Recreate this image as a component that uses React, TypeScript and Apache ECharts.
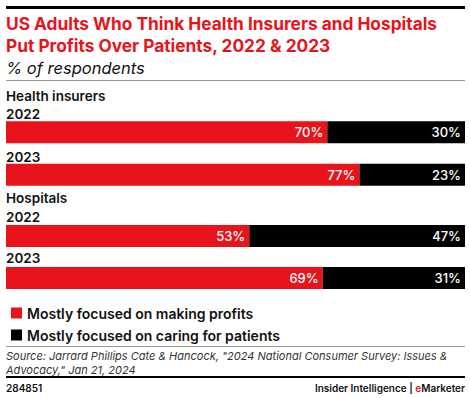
import React, { useEffect, useRef } from "react";
import * as echarts from "echarts";

const groups = ["Health insurers", "Hospitals"];
const years = ["2022", "2023"];
const profitsInsurers = [70, 77];
const caringInsurers = [30, 23];
const profitsHospitals = [53, 69];
const caringHospitals = [47, 31];
const seriesNames = ["Mostly focused on making profits", "Mostly focused on caring for patients"];

const RED = "#e8131b";
const FONT = "Inter, 'Noto Sans', sans-serif";

const rules = [
  { y: 7.5, w: 3, color: "#000" },
  { y: 80.5, w: 1, color: "#999" },
  { y: 346.5, w: 1, color: "#999" },
  { y: 377, w: 2, color: "#000" },
];

export default function App() {
  const ref = useRef<HTMLDivElement>(null);
  useEffect(() => {
    const chart = echarts.init(ref.current!, null, { renderer: "svg" });
    const grids = [
      { left: 6, right: 5, top: 111, height: 85 },
      { left: 6, right: 5, top: 215, height: 84 },
    ];
    const label = {
      show: true,
      position: "insideRight",
      distance: 4,
      formatter: "{c}%",
      color: "#fff",
      fontFamily: FONT,
      fontSize: 13,
      fontWeight: 500,
    };
    const mk = (name: string, data: number[], idx: number, color: string) => ({
      name,
      type: "bar",
      stack: "s" + idx,
      xAxisIndex: idx,
      yAxisIndex: idx,
      barWidth: 22,
      data,
      itemStyle: { color },
      label,
    });
    const yearLabelY = [[114, 157], [217, 258]];
    const headerY = [96, 198];
    const txt = (text: string, x: number, y: number, font: string, fill = "#111", align = "left") => ({
      type: "text",
      style: { text, x, y, font, fill, align, verticalAlign: "middle" },
    });
    const texts: any[] = [];
    groups.forEach((g, gi) => {
      texts.push(txt(g, 6, headerY[gi], `600 13.5px ${FONT}`));
      years.forEach((y, yi) => {
        texts.push(txt(y, 6, yearLabelY[gi][yi], `600 13.5px ${FONT}`));
      });
    });
    chart.setOption({
      animation: false,
      grid: grids,
      xAxis: grids.map((_, i) => ({
        type: "value", gridIndex: i, min: 0, max: 100, show: false,
      })),
      yAxis: grids.map((_, i) => ({
        type: "category", gridIndex: i, data: years, inverse: true, show: false,
      })),
      legend: {
        orient: "vertical",
        left: 6,
        top: 301,
        icon: "rect",
        itemWidth: 11,
        itemHeight: 11,
        itemGap: 8,
        data: seriesNames,
        textStyle: { fontFamily: FONT, fontSize: 14, fontWeight: 600, color: "#111" },
        selectedMode: false,
      },
      series: [
        mk(seriesNames[0], profitsInsurers, 0, RED),
        mk(seriesNames[1], caringInsurers, 0, "#000"),
        mk(seriesNames[0], profitsHospitals, 1, RED),
        mk(seriesNames[1], caringHospitals, 1, "#000"),
      ],
      graphic: {
        elements: [
          ...rules.map((r) => ({
            type: "rect",
            z: 50,
            shape: { x: 6, y: r.y - r.w / 2, width: 459, height: r.w },
            style: { fill: r.color },
          })),
          txt("US Adults Who Think Health Insurers and Hospitals", 6, 23, `700 17.3px ${FONT}`, RED),
          txt("Put Profits Over Patients, 2022 & 2023", 6, 45, `700 17.3px ${FONT}`, RED),
          txt("% of respondents", 6, 68, `italic 400 16.5px ${FONT}`),
          ...texts,
          txt("Source: Jarrard Phillips Cate & Hancock, \"2024 National Consumer Survey: Issues &", 6, 355.5, `italic 400 11px ${FONT}`, "#333"),
          txt("Advocacy,\" Jan 21, 2024", 6, 369.5, `italic 400 11px ${FONT}`, "#333"),
          txt("284851", 6, 388, `600 10px ${FONT}`),
          {
            type: "text",
            style: {
              x: 465, y: 388, align: "right", verticalAlign: "middle",
              text: "{a|Insider Intelligence | }{b|e}{a|Marketer}",
              rich: {
                a: { font: `600 10px ${FONT}`, fill: "#111" },
                b: { font: `600 10px ${FONT}`, fill: RED },
              },
            },
          },
        ],
      },
    });
    return () => chart.dispose();
  }, []);
  return (
    <div style={{ position: "absolute", left: 0, top: 0, width: 470, height: 398, background: "#fff" }}>
      <div ref={ref} style={{ position: "absolute", left: 0, top: 0, width: 470, height: 398 }} />
      {rules.map((r, i) => (
        <div
          key={i}
          style={{
            position: "absolute",
            left: 6,
            width: 459,
            top: r.y - r.w / 2,
            height: r.w,
            background: r.color,
            zIndex: 10,
            pointerEvents: "none",
          }}
        />
      ))}
    </div>
  );
}
